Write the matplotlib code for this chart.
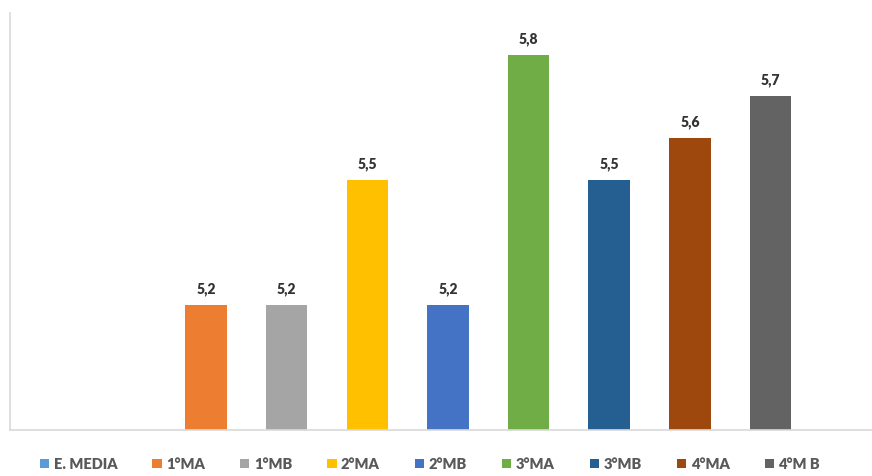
import matplotlib
matplotlib.use("Agg")
import matplotlib.pyplot as plt
from matplotlib.patches import Patch
import numpy as np

categories = ["E. MEDIA", "1°MA", "1°MB", "2°MA", "2°MB", "3°MA", "3°MB", "4°MA", "4°M B"]
values = [np.nan, 5.2, 5.2, 5.5, 5.2, 5.8, 5.5, 5.6, 5.7]
labels = ["", "5,2", "5,2", "5,5", "5,2", "5,8", "5,5", "5,6", "5,7"]
colors = ["#5B9BD5", "#ED7D31", "#A5A5A5", "#FFC000", "#4472C4",
          "#70AD47", "#255E91", "#9E480E", "#636363"]

plt.rcParams['font.family'] = ['Lato', 'DejaVu Sans']

fig = plt.figure(figsize=(8.72, 4.76), dpi=100)
ax = fig.add_axes([0.012, 0.0966, 0.988, 0.876])

x = np.arange(len(categories))
bars = ax.bar(x, values, width=0.515, color=colors, zorder=2)

for xi, v, lab in zip(x, values, labels):
    if not np.isnan(v):
        ax.annotate(lab, (xi, v), xytext=(0, 8.5), textcoords="offset points",
                    ha="center", va="baseline", fontsize=10, fontweight="heavy",
                    color="#333333")

ax.set_ylim(4.9, 5.9)
ax.set_xlim(-1.424, 9.258)
ax.set_xticks([])
ax.set_yticks([])
for s in ["top", "right"]:
    ax.spines[s].set_visible(False)
for s in ["left", "bottom"]:
    ax.spines[s].set_color("#d9d9d9")
    ax.spines[s].set_linewidth(1.2)

handles = [Patch(facecolor=c, edgecolor="none") for c in colors]
leg = fig.legend(handles, categories, ncol=9, loc="center",
                 bbox_to_anchor=(0.493, 0.025), frameon=False,
                 handlelength=0.65, handleheight=0.65, handletextpad=0.3,
                 columnspacing=2.4, prop={"weight": "heavy", "size": 10.5})
for t in leg.get_texts():
    t.set_color("#595959")

fig.savefig("out.png", dpi=100)
